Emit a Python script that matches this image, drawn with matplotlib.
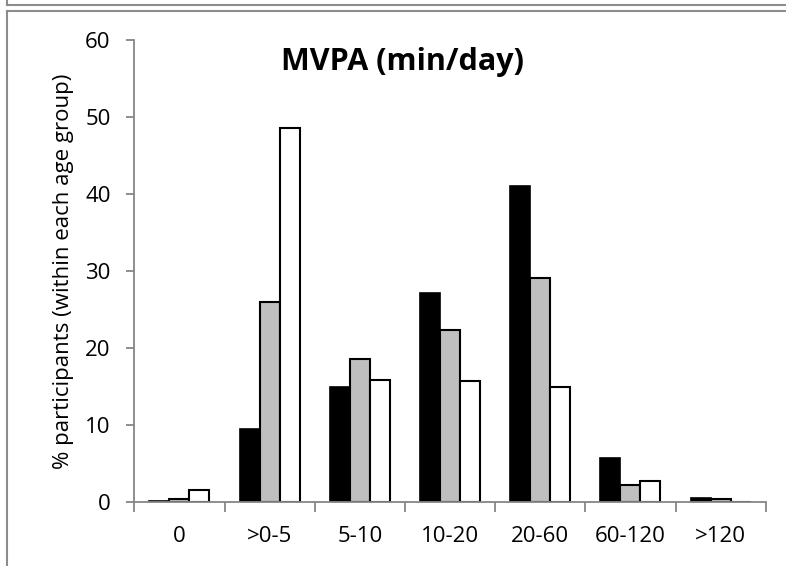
import matplotlib
matplotlib.use("Agg")
import matplotlib.pyplot as plt
from matplotlib.lines import Line2D
import numpy as np

categories = ["0", ">0-5", "5-10", "10-20", "20-60", "60-120", ">120"]
series_black = [0.1, 9.5, 14.9, 27.2, 41.0, 5.7, 0.5]
series_gray = [0.45, 26.0, 18.6, 22.3, 29.1, 2.25, 0.45]
series_white = [1.6, 48.5, 15.8, 15.7, 15.0, 2.7, 0.0]
yticks = [0, 10, 20, 30, 40, 50, 60]
title = "MVPA (min/day)"
ylabel = "% participants (within each age group)"

plt.rcParams['font.family'] = ['Open Sans', 'DejaVu Sans']

fig = plt.figure(figsize=(7.86, 5.66), dpi=100)
ax = fig.add_axes([0.1709, 0.1126, 0.8033, 0.8173])

x = np.arange(len(categories))
w = 0.222
axis_gray = "#868686"
ax.bar(x - w, series_black, width=w, color="black", edgecolor="black", linewidth=1.2)
ax.bar(x, series_gray, width=w, color="#bfbfbf", edgecolor="black", linewidth=1.5)
ax.bar(x + w, series_white, width=w, color="white", edgecolor="black", linewidth=1.5)

fs = 16
ax.set_xlim(-0.5, len(categories) - 0.5)
ax.set_ylim(0, 60)
ax.set_yticks(yticks)
ax.set_yticklabels([str(v) for v in yticks], fontsize=fs)
ax.set_xticks(x)
ax.set_xticklabels(categories, fontsize=fs)
ax.set_xticks(np.arange(-0.5, len(categories), 1.0), minor=True)
ax.tick_params(axis="x", which="major", length=0, pad=17)
ax.tick_params(axis="x", which="minor", length=7, width=1.3, color=axis_gray, direction="out")
ax.tick_params(axis="y", which="major", length=6, width=1.3, color=axis_gray, direction="out", pad=11)

for s in ["top", "right"]:
    ax.spines[s].set_visible(False)
for s in ["left", "bottom"]:
    ax.spines[s].set_color(axis_gray)
    ax.spines[s].set_linewidth(1.3)

ax.set_ylabel(ylabel, fontsize=fs, labelpad=8)
ax.text(0.424, 0.952, title, transform=ax.transAxes, fontsize=22, fontweight="bold",
        ha="center", va="center")

# frame lines of the figure panel
W, H = 786.0, 566.0
fc = "#8c8c8c"
fig.add_artist(Line2D([7 / W, 1.0], [1 - 5 / H, 1 - 5 / H], color=fc, lw=1.5, transform=fig.transFigure))
fig.add_artist(Line2D([7 / W, 7 / W], [1.0, 1 - 5 / H], color=fc, lw=1.5, transform=fig.transFigure))
fig.add_artist(Line2D([7 / W, 1.0], [1 - 10.5 / H, 1 - 10.5 / H], color=fc, lw=1.5, transform=fig.transFigure))
fig.add_artist(Line2D([7 / W, 7 / W], [1 - 10.5 / H, 0.0], color=fc, lw=1.5, transform=fig.transFigure))

fig.savefig("out.png", dpi=100)
